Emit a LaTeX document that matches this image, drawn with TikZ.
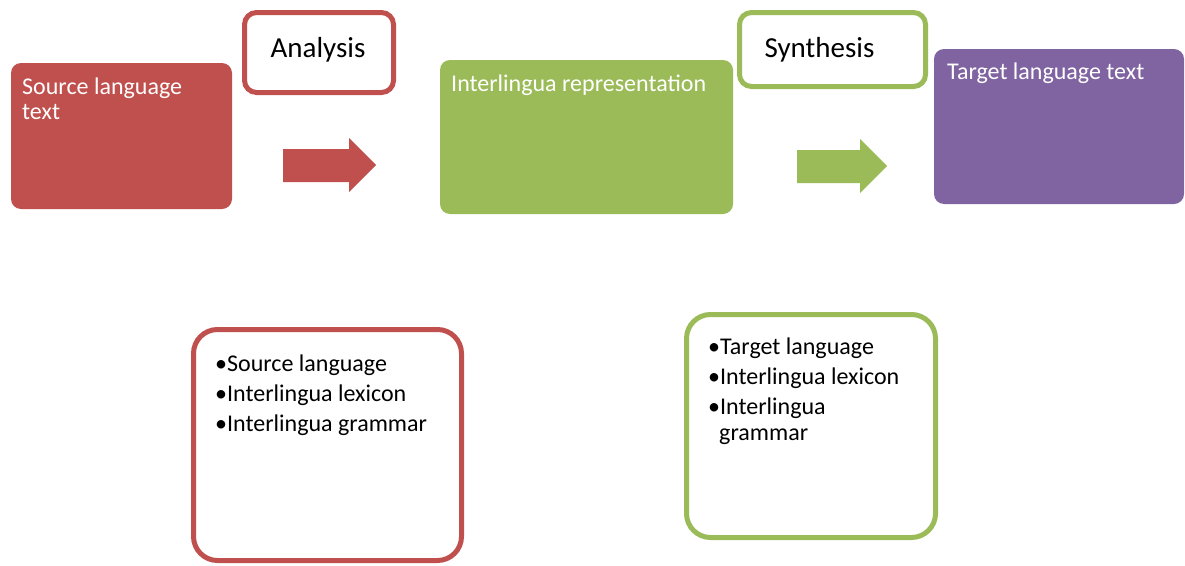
\documentclass[tikz,border=0pt]{standalone}
\usepackage{fontspec}
\setmainfont{Carlito}
\definecolor{accRed}{HTML}{C0504D}
\definecolor{accGreen}{HTML}{9BBB59}
\definecolor{accPurple}{HTML}{8064A2}
\begin{document}
\begin{tikzpicture}[x=1pt,y=-1pt,
  solidbox/.style={rectangle, rounded corners=10pt, draw=none, inner sep=0pt},
  framebox/.style={rectangle, rounded corners=12pt, line width=5pt, fill=white, inner sep=0pt},
  listbox/.style={rectangle, rounded corners=24pt, line width=5pt, fill=white, inner sep=0pt},
  boxtext/.style={anchor=base west, inner sep=0pt, text=white, font=\fontsize{24}{26}\selectfont},
  titletext/.style={anchor=base, inner sep=0pt, text=black, font=\fontsize{29}{32}\selectfont},
  listtext/.style={anchor=base west, inner sep=0pt, text=black, font=\fontsize{24}{26}\selectfont},
  blockarrow/.style={draw=none}]
\useasboundingbox (0,0) rectangle (1185,565);

% main stages
\node[solidbox, fill=accRed, minimum width=221pt, minimum height=146pt] (src) at (121.5,136) {};
\node[solidbox, fill=accGreen, minimum width=293pt, minimum height=154pt] (inter) at (586.5,137) {};
\node[solidbox, fill=accPurple, minimum width=250pt, minimum height=155pt] (tgt) at (1059,126.5) {};

\node[boxtext] (srcA) at (22,94) {Source language};
\node[boxtext] (srcB) at (22,119.5) {text};
\node[boxtext] (interA) at (451,91) {Interlingua representation};
\node[boxtext] (tgtA) at (947,79) {Target language text};

% step labels
\node[framebox, draw=accRed, minimum width=149pt, minimum height=80pt] (ana) at (319,52.5) {};
\node[framebox, draw=accGreen, minimum width=186pt, minimum height=74pt] (syn) at (832.5,49.5) {};
\node[titletext] (anaT) at (318,57) {Analysis};
\node[titletext] (synT) at (819.5,57) {Synthesis};

% block arrows
\fill[accRed] (283,149) -- (349,149) -- (349,138) -- (376,165) -- (349,192) -- (349,182) -- (283,182) -- cycle;
\fill[accGreen] (797,150) -- (860,150) -- (860,139) -- (887,166) -- (860,193) -- (860,183) -- (797,183) -- cycle;

% resources
\node[listbox, draw=accRed, minimum width=268pt, minimum height=231pt] (resL) at (327.5,445) {};
\node[listbox, draw=accGreen, minimum width=249pt, minimum height=223pt] (resR) at (811,426) {};

\node[listtext] (l1) at (215,371) {•Source language};
\node[listtext] (l2) at (215,401) {•Interlingua lexicon};
\node[listtext] (l3) at (215,431) {•Interlingua grammar};

\node[listtext] (r1) at (708,354) {•Target language};
\node[listtext] (r2) at (708,384) {•Interlingua lexicon};
\node[listtext] (r3) at (708,414) {•Interlingua};
\node[listtext] (r4) at (719,440) {grammar};
\end{tikzpicture}
\end{document}
